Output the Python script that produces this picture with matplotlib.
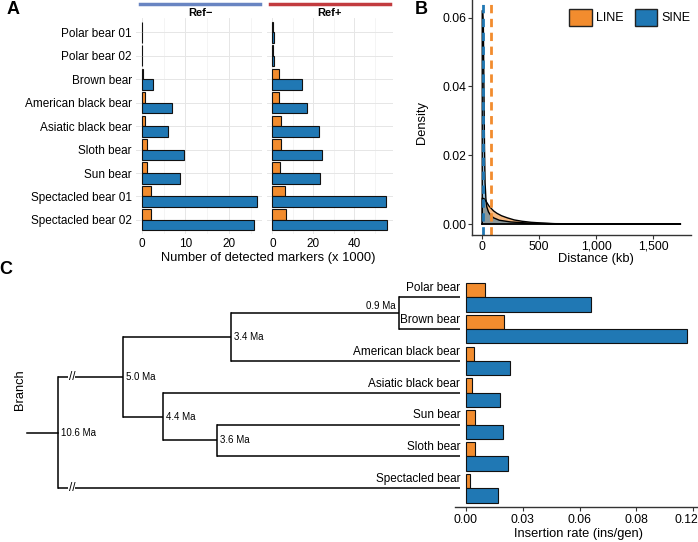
import numpy as np
import matplotlib.pyplot as plt
from matplotlib.patches import Patch
from matplotlib.lines import Line2D
from matplotlib.transforms import ScaledTranslation

plt.rcParams['font.family'] = ['Liberation Sans', 'DejaVu Sans']

W, H = 698, 542
ORANGE = '#F28C2E'
BLUE = '#2078B4'

# ---- panel A: detected markers (x 1000) ----
samples = ['Polar bear 01', 'Polar bear 02', 'Brown bear', 'American black bear',
           'Asiatic black bear', 'Sloth bear', 'Sun bear',
           'Spectacled bear 01', 'Spectacled bear 02']
refm_line = [0.05, 0.05, 0.35, 0.8, 0.8, 1.2, 1.1, 2.1, 2.2]
refm_sine = [0.15, 0.15, 2.7, 6.9, 6.0, 9.6, 8.8, 26.4, 25.7]
refp_line = [0.3, 0.3, 3.4, 3.1, 4.4, 4.4, 3.9, 6.3, 6.6]
refp_sine = [0.6, 0.7, 14.6, 16.8, 22.8, 24.1, 23.4, 55.6, 56.1]

# ---- panel B: distance densities ----
sine_x = [0, 5, 10, 15, 20, 25, 32, 40, 55, 75, 100, 150, 250, 400, 600, 900, 1300, 1740]
sine_y = [0.062, 0.062, 0.058, 0.04, 0.022, 0.012, 0.0075, 0.005, 0.0035, 0.0025,
          0.0018, 0.0011, 0.0006, 0.0003, 0.00012, 0.00005, 0.00002, 0.0]
line_x = [0, 15, 30, 45, 60, 80, 100, 130, 170, 220, 280, 350, 430, 520, 620, 725]
line_y = [0.0075, 0.0074, 0.0068, 0.006, 0.0052, 0.0045, 0.0038, 0.0031, 0.0024,
          0.0018, 0.0012, 0.0008, 0.0005, 0.0003, 0.00012, 0.0]
sine_median = 9
line_median = 76

# ---- panel C: tree + insertion rates ----
species = ['Polar bear', 'Brown bear', 'American black bear', 'Asiatic black bear',
           'Sun bear', 'Sloth bear', 'Spectacled bear']
rate_line = [0.0100, 0.0201, 0.0044, 0.0032, 0.0046, 0.0046, 0.0023]
rate_sine = [0.0659, 0.1167, 0.0233, 0.0180, 0.0197, 0.0220, 0.0167]
rate_ticks = [0, 0.03, 0.06, 0.09, 0.12]
rate_ticklabels = ['0.00', '0.03', '0.06', '0.08', '0.12']
# (age in Ma, children); leaves are row numbers
tree = (10.6, [(5.0, [(3.4, [(0.9, [0, 1]), 2]), (4.4, [3, (3.6, [4, 5])])]), 6])
ROOT_DRAW_AGE = 5.96   # root drawn here, branches broken
BREAK_AGE = 5.76


def px_axes(l, t, r, b):
    return fig.add_axes([l / W, 1 - b / H, (r - l) / W, (b - t) / H])


fig = plt.figure(figsize=(W / 100, H / 100), dpi=100)

# ================= A =================
h = 0.45
rows = np.arange(len(samples))
axA1 = px_axes(136, 18.2, 262.3, 234)
axA2 = px_axes(266.6, 18.2, 393.1, 234)
for ax, ln, sn, xl, ticks, minor in [
        (axA1, refm_line, refm_sine, (-1.32, 27.7), [0, 10, 20], [5, 15, 25]),
        (axA2, refp_line, refp_sine, (-2.8, 58.9), [0, 20, 40], [10, 30, 50])]:
    ax.barh(rows - h / 2, ln, height=h, color=ORANGE, edgecolor='#111111', lw=0.8)
    ax.barh(rows + h / 2, sn, height=h, color=BLUE, edgecolor='#111111', lw=0.8)
    ax.set_xlim(*xl)
    ax.set_ylim(len(samples) - 0.4, -0.6)
    ax.set_xticks(ticks)
    ax.set_xticks(minor, minor=True)
    ax.set_yticks(rows)
    ax.set_axisbelow(True)
    ax.grid(which='major', color='#e6e6e6', lw=0.7)
    ax.grid(which='minor', axis='x', color='#f0f0f0', lw=0.5)
    for s in ax.spines.values():
        s.set_visible(False)
    ax.tick_params(length=0, labelsize=8.5, pad=3)
    ax.tick_params(which='minor', length=0)
axA1.set_yticklabels(samples)
axA2.set_yticklabels([])

for l, r, col, lab in [(140, 260, '#6985C2', 'Ref\u2212'), (270, 390, '#C23B3F', 'Ref+')]:
    fig.add_artist(Line2D([l / W, r / W], [1 - 4 / H, 1 - 4 / H], color=col, lw=2.5))
    fig.text((l + r) / 2 / W, 1 - 13.5 / H, lab, ha='center', va='center',
             fontsize=8, fontweight='bold')
fig.text(268 / W, 1 - 258 / H, 'Number of detected markers (x 1000)',
         ha='center', va='center', fontsize=9.3)

# ================= B =================
axB = px_axes(472.3, 0, 690.6, 234.7)
axB.fill_between(line_x, line_y, 0, facecolor=ORANGE, alpha=0.6, edgecolor='none')
axB.fill_between(sine_x, sine_y, 0, facecolor=BLUE, alpha=0.5, edgecolor='none')
for xs, ys in [(line_x, line_y), (sine_x, sine_y)]:
    axB.plot([xs[0]] + list(xs) + [xs[-1], xs[0]], [0] + list(ys) + [0, 0],
             color='black', lw=1.0)
axB.axvline(sine_median, color=BLUE, lw=2, ls=(0, (3, 2)))
axB.axvline(line_median, color=ORANGE, lw=2, ls=(0, (3, 2)))
axB.set_xlim(-87, 1827)
axB.set_ylim(-0.0031, 0.0651)
axB.set_xticks([0, 500, 1000, 1500])
axB.set_xticklabels(['0', '500', '1,000', '1,500'])
axB.set_yticks([0, 0.02, 0.04, 0.06])
axB.set_yticklabels(['0.00', '0.02', '0.04', '0.06'])
for s in ['top', 'right']:
    axB.spines[s].set_visible(False)
for s in ['left', 'bottom']:
    axB.spines[s].set_color('#333333')
    axB.spines[s].set_linewidth(1.0)
axB.tick_params(length=3, labelsize=8.8, color='#333333', pad=1.5)
handles = [Patch(facecolor=ORANGE, edgecolor='#222222', label='LINE'),
           Patch(facecolor=BLUE, edgecolor='#222222', label='SINE')]
fig.legend(handles=handles, loc='upper right', bbox_to_anchor=(1.0, 1 - 1 / H),
           ncol=2, frameon=False, fontsize=9, handlelength=1.8, handleheight=1.8,
           handletextpad=0.35, columnspacing=0.9, borderaxespad=0.2)
fig.text(421.7 / W, 1 - 123 / H, 'Density', rotation=90, ha='center', va='center',
         fontsize=9.3)
fig.text(596 / W, 1 - 259 / H, 'Distance (kb)', ha='center', va='center', fontsize=9.3)

# ================= C =================
axT = px_axes(0, 278.2, 460, 507.3)
axT.set_xlim(460 / 67.4, 0)
axT.set_ylim(6.6, -0.6)
axT.axis('off')
LW = 1.1


def draw(node):
    # returns y of node
    if isinstance(node, int):
        return node
    age, kids = node
    xa = ROOT_DRAW_AGE if node is tree else age
    ys = []
    for k in kids:
        ky = draw(k)
        kage = 0 if isinstance(k, int) else k[0]
        axT.plot([xa, kage], [ky, ky], color='black', lw=LW, solid_capstyle='butt')
        if node is tree:
            axT.text(BREAK_AGE, ky, '//', ha='center', va='center', fontsize=8.5,
                     bbox=dict(facecolor='white', edgecolor='none', pad=0.3))
        ys.append(ky)
    axT.plot([xa, xa], [min(ys), max(ys)], color='black', lw=LW)
    y = (min(ys) + max(ys)) / 2
    lab = f'{age} Ma'
    if age < 1:
        axT.text(xa + 0.06, y - 0.22, lab, ha='right', va='center', fontsize=7)
    else:
        axT.text(xa - 0.045, y, lab, ha='left', va='center', fontsize=7)
    if node is tree:
        axT.plot([xa + 0.47, xa], [y, y], color='black', lw=LW)
    return y


draw(tree)
for i, sp in enumerate(species):
    axT.text(-0.005, i - 0.1, sp, ha='right', va='bottom', fontsize=8.5, zorder=5)
fig.text(20 / W, 1 - 390 / H, 'Branch', rotation=90, ha='center', va='center',
         fontsize=9.3)

axC = px_axes(455, 278.2, 698, 507.3)
axC.patch.set_visible(False)
yr = np.arange(len(species))
axC.barh(yr - h / 2, rate_line, height=h, color=ORANGE, edgecolor='#111111', lw=0.8)
axC.barh(yr + h / 2, rate_sine, height=h, color=BLUE, edgecolor='#111111', lw=0.8)
axC.set_xlim(-0.0058, 0.1225)
axC.set_ylim(6.6, -0.6)
axC.set_xticks(rate_ticks)
axC.set_xticklabels(rate_ticklabels)
axC.set_yticks([])
for s in ['top', 'right', 'left']:
    axC.spines[s].set_visible(False)
axC.spines['bottom'].set_color('#333333')
axC.spines['bottom'].set_linewidth(1.0)
axC.tick_params(length=3, labelsize=8.8, color='#333333', pad=1.5)
# keep the last tick label inside the figure
last = axC.get_xticklabels()[-1]
last.set_transform(last.get_transform() + ScaledTranslation(-5 / 72, 0, fig.dpi_scale_trans))
fig.text(578 / W, 1 - 534 / H, 'Insertion rate (ins/gen)', ha='center', va='center',
         fontsize=9.3)

for lab, x, y in [('A', 13.5, 9), ('B', 421, 9), ('C', 6, 270)]:
    fig.text(x / W, 1 - y / H, lab, ha='center', va='center', fontsize=13,
             fontweight='bold')

fig.savefig('out.png', dpi=100)
